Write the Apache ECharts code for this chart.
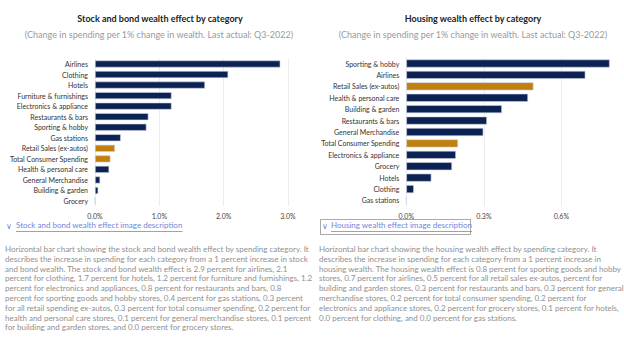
<!DOCTYPE html>
<html>
<head>
<meta charset="utf-8">
<script src="https://cdn.jsdelivr.net/npm/echarts@6/dist/echarts.min.js"></script>
<style>
html,body{margin:0;padding:0;background:#fff;}
#c{width:624px;height:341px;}
</style>
</head>
<body>
<div id="c"></div>
<script>
// ---- Data ----
var stockCategories = ["Airlines","Clothing","Hotels","Furniture & furnishings","Electronics & appliance","Restaurants & bars","Sporting & hobby","Gas stations","Retail Sales (ex-autos)","Total Consumer Spending","Health & personal care","General Merchandise","Building & garden","Grocery"];
var stockValues = [2.88, 2.07, 1.71, 1.19, 1.19, 0.83, 0.80, 0.40, 0.31, 0.24, 0.22, 0.08, 0.05, 0.0];
var stockTicks = [0, 1, 2, 3];

var housingCategories = ["Sporting & hobby","Airlines","Retail Sales (ex-autos)","Health & personal care","Building & garden","Restaurants & bars","General Merchandise","Total Consumer Spending","Electronics & appliance","Grocery","Hotels","Clothing","Gas stations"];
var housingValues = [0.787, 0.693, 0.492, 0.471, 0.370, 0.312, 0.298, 0.200, 0.192, 0.177, 0.097, 0.029, 0.0];
var housingTicks = [0, 0.3, 0.6];

var highlighted = ["Retail Sales (ex-autos)", "Total Consumer Spending"];

var stockTitle = "Stock and bond wealth effect by category";
var housingTitle = "Housing wealth effect by category";
var subTitle = "(Change in spending per 1% change in wealth. Last actual: Q3-2022)";
var stockLink = "Stock and bond wealth effect image description";
var housingLink = "Housing wealth effect image description";
var stockDesc = [
"Horizontal bar chart showing the stock and bond wealth effect by spending category. It",
"describes the increase in spending for each category from a 1 percent increase in stock",
"and bond wealth. The stock and bond wealth effect is 2.9 percent for airlines, 2.1",
"percent for clothing, 1.7 percent for hotels, 1.2 percent for furniture and furnishings, 1.2",
"percent for electronics and appliances, 0.8 percent for restaurants and bars, 0.8",
"percent for sporting goods and hobby stores, 0.4 percent for gas stations, 0.3 percent",
"for all retail spending ex-autos, 0.3 percent for total consumer spending, 0.2 percent for",
"health and personal care stores, 0.1 percent for general merchandise stores, 0.1 percent",
"for building and garden stores, and 0.0 percent for grocery stores."
];
var housingDesc = [
"Horizontal bar chart showing the housing wealth effect by spending category. It",
"describes the increase in spending for each category from a 1 percent increase in",
"housing wealth. The housing wealth effect is 0.8 percent for sporting goods and hobby",
"stores, 0.7 percent for airlines, 0.5 percent for all retail sales ex-autos, percent for",
"building and garden stores, 0.3 percent for restaurants and bars, 0.3 percent for general",
"merchandise stores, 0.2 percent for total consumer spending, 0.2 percent for",
"electronics and appliance stores, 0.2 percent for grocery stores, 0.1 percent for hotels,",
"0.0 percent for clothing, and 0.0 percent for gas stations."
];

// ---- Styles ----
var FONT = "Lato, 'Noto Sans', sans-serif";
var NAVY = "#0b2253";
var GOLD = "#c17f0d";
var LINK = "#7386d8";

function barData(cats, vals) {
  return vals.map(function (v, i) {
    return { value: v, itemStyle: { color: highlighted.indexOf(cats[i]) >= 0 ? GOLD : NAVY } };
  });
}

function xAxis(idx, ticks, max, showMax) {
  return {
    gridIndex: idx, type: 'value', min: 0, max: max, interval: ticks[1] - ticks[0],
    axisLine: { show: false }, axisTick: { show: false },
    splitLine: { show: true, showMaxLine: showMax, lineStyle: { color: '#ececec', width: 1 } },
    axisLabel: {
      showMaxLabel: showMax,
      color: '#444', fontFamily: FONT, fontSize: 7, margin: 6,
      formatter: function (v) { return v.toFixed(1) + '%'; }
    }
  };
}
function yAxis(idx, cats) {
  return {
    gridIndex: idx, type: 'category', data: cats, inverse: true,
    axisLine: { show: false }, axisTick: { show: false },
    axisLabel: { color: '#333', fontFamily: FONT, fontSize: 7, margin: 7 }
  };
}

var chart = echarts.init(document.getElementById('c'), null, { renderer: 'svg' });

function textWidth(t, font) {
  var cv = document.createElement('canvas').getContext('2d');
  cv.font = font;
  return cv.measureText(t).width;
}
var LINKFONT = '8px ' + FONT;

var graphics = [];
// left link
graphics.push({ type: 'text', left: 6, top: 222, style: { text: '\u2228', fill: LINK, font: LINKFONT } });
graphics.push({ type: 'text', left: 16, top: 221, style: { text: stockLink, fill: LINK, font: LINKFONT } });
graphics.push({ type: 'line', shape: { x1: 16, y1: 231.5, x2: 16 + textWidth(stockLink, LINKFONT), y2: 231.5 },
  style: { stroke: LINK, lineWidth: 0.8 } });
// right link
graphics.push({
  type: 'rect', shape: { x: 320.5, y: 219.5, width: 150, height: 15 },
  style: { fill: 'none', stroke: '#555', lineWidth: 1, lineDash: [1, 1] }
});
graphics.push({ type: 'text', left: 322, top: 222, style: { text: '\u2228', fill: LINK, font: LINKFONT } });
graphics.push({ type: 'text', left: 331, top: 221, style: { text: housingLink, fill: LINK, font: LINKFONT } });
graphics.push({ type: 'line', shape: { x1: 331, y1: 231.5, x2: 331 + textWidth(housingLink, LINKFONT), y2: 231.5 },
  style: { stroke: LINK, lineWidth: 0.8 } });
// descriptions
graphics.push({
  type: 'text', left: 5, top: 244,
  style: { text: stockDesc.join('\n'), fill: '#8f8f8f', font: '8px ' + FONT, lineHeight: 9.8 }
});
graphics.push({
  type: 'text', left: 319, top: 244,
  style: { text: housingDesc.join('\n'), fill: '#8f8f8f', font: '8px ' + FONT, lineHeight: 9.8 }
});

chart.setOption({
  animation: false,
  backgroundColor: '#fff',
  title: [
    { text: stockTitle, left: 155, top: 9, textAlign: 'center',
      textStyle: { fontFamily: FONT, fontSize: 9, fontWeight: 'bold', color: '#222' } },
    { text: subTitle, left: 154, top: 25, textAlign: 'center',
      textStyle: { fontFamily: FONT, fontSize: 9, fontWeight: 'normal', color: '#9a9a9a' } },
    { text: housingTitle, left: 468, top: 9, textAlign: 'center',
      textStyle: { fontFamily: FONT, fontSize: 9, fontWeight: 'bold', color: '#222' } },
    { text: subTitle, left: 468, top: 25, textAlign: 'center',
      textStyle: { fontFamily: FONT, fontSize: 9, fontWeight: 'normal', color: '#9a9a9a' } }
  ],
  grid: [
    { left: 95, width: 193, top: 58.7, height: 147.6 },
    { left: 406.3, width: 206.7, top: 57.8, height: 148.4 }
  ],
  xAxis: [xAxis(0, stockTicks, 3, true), xAxis(1, housingTicks, 0.8, false)],
  yAxis: [yAxis(0, stockCategories), yAxis(1, housingCategories)],
  series: [
    { type: 'bar', xAxisIndex: 0, yAxisIndex: 0, data: barData(stockCategories, stockValues),
      barWidth: 7, itemStyle: { borderColor: '#c9d1e3', borderWidth: 0.6 } },
    { type: 'bar', xAxisIndex: 1, yAxisIndex: 1, data: barData(housingCategories, housingValues),
      barWidth: 8, itemStyle: { borderColor: '#c9d1e3', borderWidth: 0.6 } }
  ],
  graphic: graphics
});
</script>
</body>
</html>
